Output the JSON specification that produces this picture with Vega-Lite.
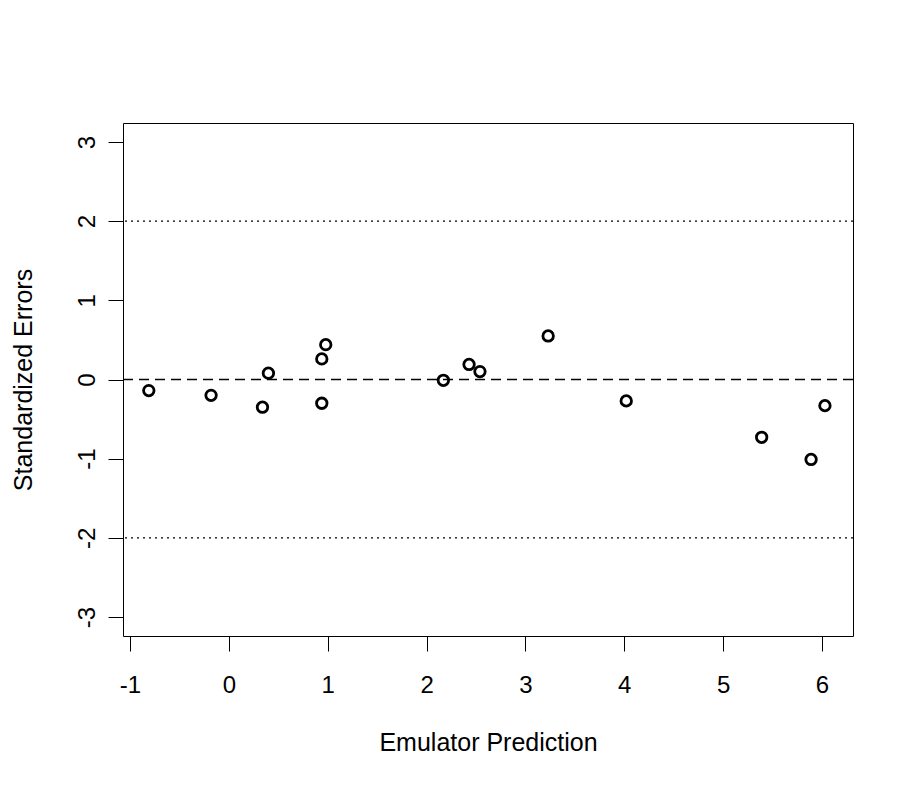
{
  "$schema": "https://vega.github.io/schema/vega-lite/v6.json",
  "width": 730,
  "height": 513,
  "autosize": {"type": "none"},
  "padding": {"left": 123, "top": 123, "right": 64, "bottom": 154},
  "background": "white",
  "config": {
    "view": {"stroke": "black", "strokeWidth": 1},
    "font": "Liberation Sans",
    "axis": {
      "grid": false,
      "domain": false,
      "tickColor": "black",
      "tickSize": 15,
      "tickWidth": 1,
      "labelFont": "Liberation Sans",
      "labelFontSize": 24,
      "labelColor": "black",
      "titleFont": "Liberation Sans",
      "titleFontSize": 25,
      "titleFontWeight": "normal",
      "titleColor": "black"
    }
  },
  "datasets": {
    "pts": [
      {"pred": -0.81, "err": -0.14},
      {"pred": -0.18, "err": -0.20},
      {"pred": 0.34, "err": -0.35},
      {"pred": 0.40, "err": 0.08},
      {"pred": 0.94, "err": 0.26},
      {"pred": 0.98, "err": 0.44},
      {"pred": 0.94, "err": -0.30},
      {"pred": 2.17, "err": -0.01},
      {"pred": 2.43, "err": 0.19},
      {"pred": 2.54, "err": 0.10},
      {"pred": 3.23, "err": 0.55},
      {"pred": 4.02, "err": -0.27},
      {"pred": 5.39, "err": -0.73},
      {"pred": 5.89, "err": -1.01},
      {"pred": 6.03, "err": -0.33}
    ],
    "dotted": [{"y": 2}, {"y": -2}],
    "dashed": [{"y": 0}]
  },
  "layer": [
    {
      "data": {"name": "dotted"},
      "mark": {"type": "rule", "color": "black", "strokeWidth": 1.3, "strokeDash": [2, 4]},
      "encoding": {
        "y": {"field": "y", "type": "quantitative", "scale": {"domain": [-3.24, 3.24], "nice": false, "zero": false}}
      }
    },
    {
      "data": {"name": "dashed"},
      "mark": {"type": "rule", "color": "black", "strokeWidth": 1.3, "strokeDash": [10, 6]},
      "encoding": {
        "y": {"field": "y", "type": "quantitative"}
      }
    },
    {
      "data": {"name": "pts"},
      "mark": {"type": "point", "shape": "circle", "filled": false, "color": "black", "strokeWidth": 2.8, "size": 110, "opacity": 1},
      "encoding": {
        "x": {
          "field": "pred", "type": "quantitative",
          "scale": {"domain": [-1.071, 6.314], "nice": false, "zero": false},
          "axis": {"values": [-1, 0, 1, 2, 3, 4, 5, 6], "labelExpr": "'' + datum.value", "title": "Emulator Prediction", "labelPadding": 22, "titlePadding": 33, "labelFlush": false}
        },
        "y": {
          "field": "err", "type": "quantitative",
          "axis": {"values": [-3, -2, -1, 0, 1, 2, 3], "labelExpr": "'' + datum.value", "title": "Standardized Errors", "labelAngle": -90, "labelAlign": "center", "labelBaseline": "bottom", "labelPadding": 9, "titlePadding": 39, "labelFlush": false}
        }
      }
    }
  ]
}
